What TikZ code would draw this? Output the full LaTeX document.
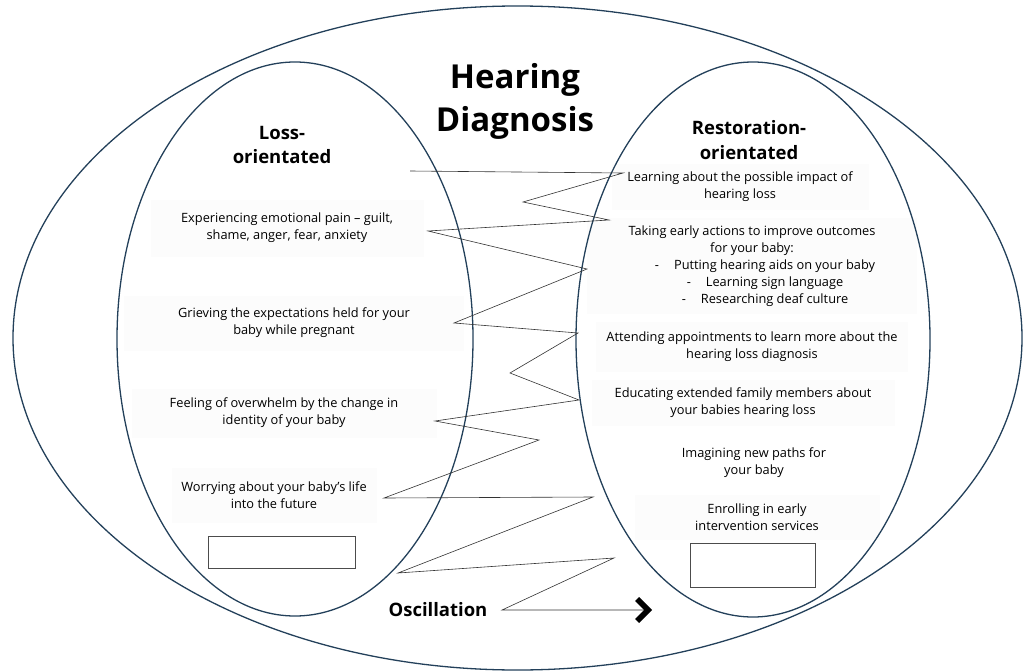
\documentclass[tikz,border=0pt]{standalone}
\usepackage{fontspec}
\setmainfont{Open Sans}
\usepackage{tikz}
\usetikzlibrary{shapes.geometric,arrows.meta}
\definecolor{ringcol}{HTML}{23405A}
\definecolor{shade}{HTML}{FCFCFC}

\begin{document}
\begin{tikzpicture}[x=1pt, y=-1pt,
  ring/.style={ellipse, draw=ringcol, line width=1.3pt, inner sep=0pt},
  item/.style={align=center, font=\fontsize{12.8}{17}\selectfont, fill=shade, inner sep=0pt},
  head/.style={align=center, font=\bfseries\fontsize{18.5}{24.5}\selectfont},
  blank/.style={rectangle, draw=black!70, line width=0.9pt, inner sep=0pt},
  zig/.style={draw=black!80, line width=0.6pt},
]
\useasboundingbox (0,0) rectangle (1024,671);

% loss side
\node[item, minimum width=273pt, minimum height=57pt] (pain) at (287,228) {Experiencing emotional pain – guilt,\\shame, anger, fear, anxiety};
\node[item, minimum width=340pt, minimum height=55pt] (grief) at (294,323) {Grieving the expectations held for your\\baby while pregnant};
\node[item, minimum width=305pt, minimum height=49pt] (overwhelm) at (284,413) {Feeling of overwhelm by the change in\\identity of your baby};
\node[item, minimum width=205pt, minimum height=55pt] (worry) at (274,495) {Worrying about your baby’s life\\into the future};
\node[blank, minimum width=147pt, minimum height=32pt] (lossBox) at (281.5,552) {};

% restoration side
\node[item, minimum width=257pt, minimum height=45pt] (learn) at (740,187) {Learning about the possible impact of\\hearing loss};
\node[item, minimum width=330pt, minimum height=96pt] (actions) at (752,266) {Taking early actions to improve outcomes\\for your baby:\\
  \hspace*{26pt}-\hspace{15pt}Putting hearing aids on your baby\\
  \hspace*{26pt}-\hspace{15pt}Learning sign language\\
  \hspace*{26pt}-\hspace{15pt}Researching deaf culture};
\node[item, minimum width=312pt, minimum height=50pt] (appoint) at (752,347) {Attending appointments to learn more about the\\hearing loss diagnosis};
\node[item, minimum width=303pt, minimum height=46pt] (educate) at (743,403) {Educating extended family members about\\your babies hearing loss};
\node[item, fill=none] (imagine) at (754,463) {Imagining new paths for\\your baby};
\node[item, minimum width=245pt, minimum height=45pt] (enrol) at (757,517) {Enrolling in early\\intervention services};
\node[blank, minimum width=125pt, minimum height=44pt] (restBox) at (752.5,565) {};

% the three ellipses
\node[ring, minimum width=1009pt, minimum height=664pt] (world) at (517.5,338) {};
\node[ring, minimum width=356pt, minimum height=554pt] (lossRing) at (295,339) {};
\node[ring, minimum width=354pt, minimum height=555pt] (restRing) at (753,339.5) {};

% headings
\node[align=center, font=\bfseries\fontsize{33}{43}\selectfont] (title) at (515,101) {Hearing\\Diagnosis};
\node[head] (lossHead) at (282,145) {Loss-\\orientated};
\node[head] (restHead) at (749,140) {Restoration-\\orientated};
\node[head] (osc) at (438,610) {Oscillation};

% oscillation line
\draw[zig, -{Straight Barb[length=11pt, width=22pt, line width=5.5pt, color=black]}]
  (410,171) -- (623,173) -- (523,202) -- (609,220) -- (428,231) -- (587,269)
  -- (454,323) -- (578,333) -- (510,373) -- (579,400) -- (435,421) -- (539,440)
  -- (384,498) -- (593,497) -- (398,573) -- (614,558) -- (502,610) -- (652,610);
\end{tikzpicture}
\end{document}
